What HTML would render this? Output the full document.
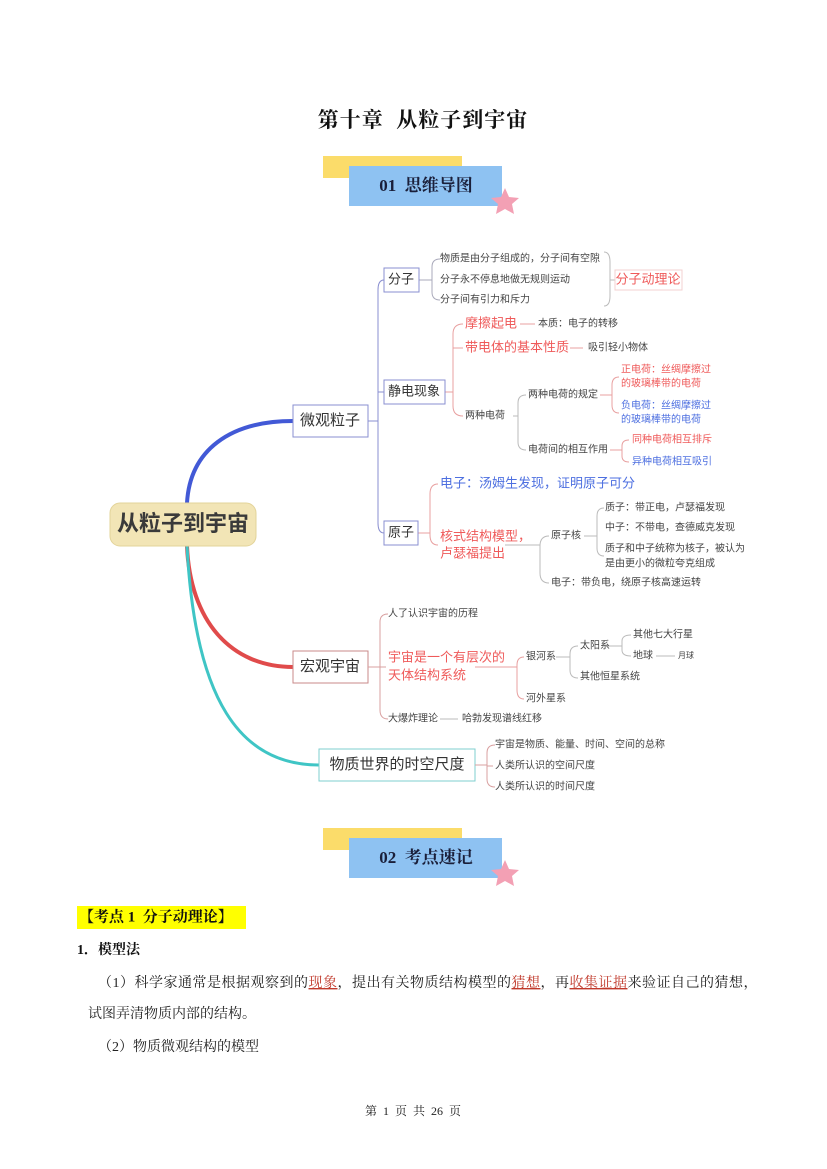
<!DOCTYPE html>
<html><head><meta charset="utf-8"><style>
html,body{margin:0;padding:0;background:#fff}
svg{display:block}
text{font-family:"Liberation Sans","Noto Sans CJK SC",sans-serif;dominant-baseline:middle;white-space:pre}
.s{font-size:10px;fill:#444}
.r{font-size:13px;fill:#ef5a5a}
.b{font-size:13px;fill:#4d6fe0}
.rs{font-size:10px;fill:#ef5a5a}
.bs{font-size:10px;fill:#4d6fe0}
.n{font-size:15px;fill:#333}
.ser{font-family:"Liberation Serif","Noto Serif CJK SC",serif}
</style></head><body>
<svg width="827" height="1169" viewBox="0 0 827 1169" xmlns="http://www.w3.org/2000/svg" xml:space="preserve">
<text x="423" y="122" text-anchor="middle" class="ser" style="font-size:21px;font-weight:bold;fill:#111;letter-spacing:1px">第十章  从粒子到宇宙</text>
<rect x="323" y="156" width="139" height="22" fill="#fbdc6a"/>
<rect x="349" y="166" width="153" height="40" fill="#8ec2f2"/>
<text x="426" y="187" text-anchor="middle" class="ser" style="font-size:17px;font-weight:bold;fill:#1a1f3a">01  思维导图</text>
<polygon points="505,188 509,197 519,198 512,204 514,214 505,209 496,214 498,204 491,198 501,197" fill="#f3a0b4"/>
<rect x="323" y="828" width="139" height="22" fill="#fbdc6a"/>
<rect x="349" y="838" width="153" height="40" fill="#8ec2f2"/>
<text x="426" y="859" text-anchor="middle" class="ser" style="font-size:17px;font-weight:bold;fill:#1a1f3a">02  考点速记</text>
<polygon points="505,860 509,869 519,870 512,876 514,886 505,881 496,886 498,876 491,870 501,869" fill="#f3a0b4"/>

<path d="M187,503 C190,450 230,421 293,421" fill="none" stroke="#4259d6" stroke-width="4"/>
<path d="M187,546 C190,620 230,667 293,667" fill="none" stroke="#e04b4b" stroke-width="4"/>
<path d="M187,546 C195,700 240,765 319,765" fill="none" stroke="#3fc5c5" stroke-width="3"/>
<rect x="110" y="503" width="146" height="43" rx="10" fill="#f2e5b6" stroke="#e3d49a"/>
<text x="183" y="525" text-anchor="middle" style="font-size:22px;font-weight:bold;fill:#3a3a3a">从粒子到宇宙</text>

<rect x="293" y="405" width="75" height="32" fill="#fff" stroke="#8a8fd0"/>
<text x="330" y="421" text-anchor="middle" class="n">微观粒子</text>
<rect x="293" y="651" width="75" height="32" fill="#fff" stroke="#c98a8a"/>
<text x="330" y="667" text-anchor="middle" class="n">宏观宇宙</text>
<rect x="319" y="749" width="156" height="32" fill="#fff" stroke="#7fcfcf"/>
<text x="397" y="765" text-anchor="middle" class="n">物质世界的时空尺度</text>

<g fill="none" stroke-width="1">
<path d="M368,421 H378 M384,280 Q378,280 378,290 V523 Q378,533 384,533 M378,392 H384" stroke="#8a8fd0"/>
<path d="M368,667 H380 M388,614 Q380,614 380,622 V710 Q380,719 388,719 M380,667 H386" stroke="#d9a0a0"/>
<path d="M475,765 H487 M495,745 Q487,745 487,753 V779 Q487,787 495,787 M487,766 H493" stroke="#d9a0a0"/>
<path d="M419,280 H432 M440,259 Q432,259 432,267 V292 Q432,300 440,300" stroke="#aab"/>
<path d="M604,252 Q610,252 610,262 V296 Q610,306 604,306 M610,280 H615" stroke="#bbb"/>
<path d="M445,392 H453 M463,324 Q453,324 453,334 V406 Q453,416 463,416 M453,348 H463" stroke="#e8a0a0"/>
<path d="M520,324 H535 M570,348 H583" stroke="#e8a0a0"/>
<path d="M513,416 H518 M526,395 Q518,395 518,403 V442 Q518,450 526,450" stroke="#bbb"/>
<path d="M600,395 H612 M619,377 Q612,377 612,385 V405 Q612,413 619,413" stroke="#e8a0a0"/>
<path d="M610,450 H622 M629,440 Q622,440 622,446 V456 Q622,462 629,462" stroke="#e8a0a0"/>
<path d="M418,533 H430 M438,484 Q430,484 430,494 V535 Q430,545 438,545" stroke="#e8a0a0"/>
<path d="M505,545 H540 M549,536 Q540,536 540,546 V573 Q540,583 549,583" stroke="#bbb"/>
<path d="M584,536 H597 M604,508 Q597,508 597,516 V548 Q597,556 604,556" stroke="#bbb"/>
<path d="M475,667 H517 M524,657 Q517,657 517,665 V690 Q517,699 524,699" stroke="#e8a0a0"/>
<path d="M556,657 H570 M578,646 Q570,646 570,654 V670 Q570,678 578,678" stroke="#bbb"/>
<path d="M606,646 H622 M631,635 Q622,635 622,641 V650 Q622,656 631,656" stroke="#bbb"/>
<path d="M656,656 H675 M440,719 H458" stroke="#bbb"/>
</g>

<rect x="384" y="268" width="35" height="24" fill="#fff" stroke="#8a8fd0"/>
<text x="401" y="280" text-anchor="middle" style="font-size:13px;fill:#333">分子</text>
<rect x="384" y="380" width="61" height="24" fill="#fff" stroke="#8a8fd0"/>
<text x="414" y="392" text-anchor="middle" style="font-size:13px;fill:#333">静电现象</text>
<rect x="384" y="521" width="34" height="24" fill="#fff" stroke="#8a8fd0"/>
<text x="401" y="533" text-anchor="middle" style="font-size:13px;fill:#333">原子</text>

<text x="440" y="259" class="s">物质是由分子组成的，分子间有空隙</text>
<text x="440" y="280" class="s">分子永不停息地做无规则运动</text>
<text x="440" y="300" class="s">分子间有引力和斥力</text>
<rect x="615" y="270" width="67" height="20" fill="#fff" stroke="#f3d0d0"/>
<text x="648" y="280" text-anchor="middle" style="font-size:13px;fill:#ef5a5a">分子动理论</text>

<text x="465" y="324" class="r">摩擦起电</text>
<text x="538" y="324" class="s">本质：电子的转移</text>
<text x="465" y="348" class="r">带电体的基本性质</text>
<text x="588" y="348" class="s">吸引轻小物体</text>
<text x="465" y="416" class="s">两种电荷</text>
<text x="528" y="395" class="s">两种电荷的规定</text>
<text x="528" y="450" class="s">电荷间的相互作用</text>
<text x="621" y="370" class="rs">正电荷：丝绸摩擦过</text>
<text x="621" y="384" class="rs">的玻璃棒带的电荷</text>
<text x="621" y="406" class="bs">负电荷：丝绸摩擦过</text>
<text x="621" y="420" class="bs">的玻璃棒带的电荷</text>
<text x="632" y="440" class="rs">同种电荷相互排斥</text>
<text x="632" y="462" class="bs">异种电荷相互吸引</text>

<text x="440" y="484" class="b">电子：汤姆生发现，证明原子可分</text>
<text x="440" y="537" class="r">核式结构模型，</text>
<text x="440" y="554" class="r">卢瑟福提出</text>
<text x="551" y="536" class="s">原子核</text>
<text x="551" y="583" class="s">电子：带负电，绕原子核高速运转</text>
<text x="605" y="508" class="s">质子：带正电，卢瑟福发现</text>
<text x="605" y="528" class="s">中子：不带电，查德威克发现</text>
<text x="605" y="549" class="s">质子和中子统称为核子，被认为</text>
<text x="605" y="564" class="s">是由更小的微粒夸克组成</text>

<text x="388" y="614" class="s">人了认识宇宙的历程</text>
<text x="388" y="658" class="r">宇宙是一个有层次的</text>
<text x="388" y="676" class="r">天体结构系统</text>
<text x="388" y="719" class="s">大爆炸理论</text>
<text x="462" y="719" class="s">哈勃发现谱线红移</text>
<text x="526" y="657" class="s">银河系</text>
<text x="526" y="699" class="s">河外星系</text>
<text x="580" y="646" class="s">太阳系</text>
<text x="580" y="677" class="s">其他恒星系统</text>
<text x="633" y="635" class="s">其他七大行星</text>
<text x="633" y="656" class="s">地球</text>
<text x="678" y="656" class="s" style="font-size:8px">月球</text>

<text x="495" y="745" class="s">宇宙是物质、能量、时间、空间的总称</text>
<text x="495" y="766" class="s">人类所认识的空间尺度</text>
<text x="495" y="787" class="s">人类所认识的时间尺度</text>

<rect x="77" y="906" width="169" height="23" fill="#ffff00"/>
<text x="79" y="918" class="ser" style="font-size:15px;font-weight:bold;fill:#111">【考点 1  分子动理论】</text>
<text x="77" y="951" class="ser" style="font-size:14px;font-weight:bold;fill:#111">1．模型法</text>
<text x="98" y="984" class="ser" style="font-size:14px;fill:#222;letter-spacing:0.5px">（1）科学家通常是根据观察到的<tspan fill="#c0392b" text-decoration="underline">现象</tspan>，提出有关物质结构模型的<tspan fill="#c0392b" text-decoration="underline">猜想</tspan>，再<tspan fill="#c0392b" text-decoration="underline">收集证据</tspan>来验证自己的猜想，</text>
<text x="88" y="1015" class="ser" style="font-size:14px;fill:#222">试图弄清物质内部的结构。</text>
<text x="98" y="1048" class="ser" style="font-size:14px;fill:#222">（2）物质微观结构的模型</text>

<text x="413" y="1112" text-anchor="middle" class="ser" style="font-size:12px;fill:#222">第  1  页  共  26  页</text>
</svg>
</body></html>
